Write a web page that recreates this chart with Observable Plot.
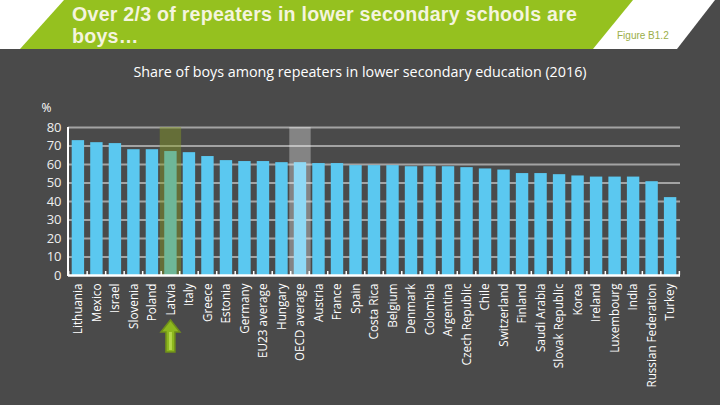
<!DOCTYPE html>
<html>
<head>
<meta charset="utf-8">
<script src="https://cdn.jsdelivr.net/npm/d3@7"></script>
<script src="https://cdn.jsdelivr.net/npm/@observablehq/plot@0.6"></script>
<style>
  html, body { margin: 0; padding: 0; }
  body { width: 720px; height: 405px; background: #4a4a4a; position: relative; overflow: hidden; }
  #header { position: absolute; left: 0; top: 0; width: 720px; height: 49px; }
  #title { position: absolute; left: 72px; top: 3px; width: 540px; font-family: "Liberation Sans", Arial, sans-serif;
           font-weight: bold; font-size: 19.6px; line-height: 22px; letter-spacing: 0.25px; color: #f4f4de; white-space: nowrap; }
  #fig { position: absolute; left: 617px; top: 30px; font-family: "Liberation Sans", Arial, sans-serif; font-size: 10px; color: #9aae48; }
  #subtitle { position: absolute; left: 0; top: 62px; width: 720px; text-align: center; font-family: "Open Sans", sans-serif;
              font-size: 14.3px; color: #ffffff; }
  #chart { position: absolute; left: 0; top: 90px; }
</style>
</head>
<body>
<svg id="header" width="720" height="49">
  <rect x="0" y="0" width="720" height="49" fill="#ffffff"></rect>
  <polygon points="64,0 633,0 593,49 20,49" fill="#95c11f"></polygon>
  <polygon points="715,0 720,0 720,49 677,49" fill="#4a4a4a"></polygon>
</svg>
<div id="title">Over 2/3 of repeaters in lower secondary schools are<br>boys…</div>
<div id="fig">Figure B1.2</div>
<div id="subtitle">Share of boys among repeaters in lower secondary education (2016)</div>
<div id="chart"></div>
<script>
const countries = ["Lithuania","Mexico","Israel","Slovenia","Poland","Latvia","Italy","Greece","Estonia","Germany",
  "EU23 average","Hungary","OECD average","Austria","France","Spain","Costa Rica","Belgium","Denmark","Colombia",
  "Argentina","Czech Republic","Chile","Switzerland","Finland","Saudi Arabia","Slovak Republic","Korea","Ireland",
  "Luxembourg","India","Russian Federation","Turkey"];
const values = [72.9,71.8,71.3,68.0,68.0,67.0,66.4,64.3,62.1,61.6,
  61.6,61.0,61.0,60.5,60.5,59.4,59.4,59.4,58.8,58.8,
  58.8,58.3,57.6,57.0,55.1,55.1,54.5,53.8,53.2,
  53.2,53.2,50.7,42.1];
const highlighted = ["Latvia","OECD average"];
const highlightColors = ["#8aa020","#ffffff"];
const highlightOpacity = [0.42,0.32];
const yTicks = [0,10,20,30,40,50,60,70,80];
const arrowCountry = "Latvia";

const data = countries.map((c, i) => ({country: c, value: values[i]}));
const hl = highlighted.map((c, i) => ({country: c, color: highlightColors[i], opacity: highlightOpacity[i]}));

// custom mark: left axis line, band-boundary ticks, and the arrow under the chosen country
function decorations(index, scales, values, dim) {
  const x = scales.x, bw = x.bandwidth();
  const step = x(countries[1]) - x(countries[0]);
  const y0 = dim.height - dim.marginBottom;
  const g = d3.create("svg:g");
  for (let i = 0; i <= countries.length; i++) {
    const cx = i < countries.length ? x(countries[i]) + bw / 2 - step / 2 : x(countries[countries.length - 1]) + bw / 2 + step / 2;
    g.append("line").attr("x1", cx).attr("x2", cx).attr("y1", y0).attr("y2", y0 - 4)
      .attr("stroke", "white").attr("stroke-width", 1.5);
  }
  g.append("line").attr("x1", dim.marginLeft).attr("x2", dim.marginLeft)
    .attr("y1", dim.marginTop).attr("y2", y0 + 1).attr("stroke", "white").attr("stroke-width", 2);
  const ax = x(arrowCountry) + bw / 2;
  const tip = y0 + 45, neck = y0 + 57, bot = y0 + 77;
  const pts = [[ax, tip], [ax + 9.5, neck], [ax + 4.5, neck], [ax + 4.5, bot], [ax - 4.5, bot], [ax - 4.5, neck], [ax - 9.5, neck]];
  g.append("polygon").attr("points", pts.map(p => p.join(",")).join(" "))
    .attr("fill", "#8db81e").attr("stroke", "#6f8f1a").attr("stroke-width", 1.5);
  g.append("rect").attr("x", ax - 1.5).attr("y", neck).attr("width", 3).attr("height", bot - neck - 2)
    .attr("fill", "#b5d84a");
  return g.node();
}

const chart = Plot.plot({
  width: 720,
  height: 315,
  marginTop: 37,
  marginBottom: 130,
  marginLeft: 68,
  marginRight: 40,
  style: {background: "transparent", color: "white", fontFamily: "'Open Sans', sans-serif", fontSize: "12px"},
  x: {domain: countries, paddingInner: 0.33, paddingOuter: 0.2, round: false, label: null},
  y: {domain: [0, 80], label: null},
  marks: [
    Plot.gridY(yTicks.slice(1), {stroke: "#a3a3a3", strokeOpacity: 1, strokeWidth: 2}),
    Plot.barY(data, {x: "country", y: "value", fill: "#5bc8f0"}),
    Plot.barY(hl, {x: "country", y1: 0, y2: 80, fill: "color", fillOpacity: "opacity", insetLeft: -4.5, insetRight: -4.5}),
    Plot.ruleY([0], {stroke: "white", strokeWidth: 2.5}),
    Plot.axisY({ticks: yTicks, tickSize: 0, tickPadding: 7, fontSize: 13, fill: "#eeeeee", label: null}),
    Plot.axisX({tickRotate: -90, tickSize: 0, tickPadding: 8, fontSize: 11.7, fill: "white", label: null}),
    Plot.text(["%"], {frameAnchor: "top-left", dx: -27, dy: -24, fill: "white", fontSize: 12, textAnchor: "start"}),
    decorations
  ]
});
document.getElementById("chart").appendChild(chart);
</script>
</body>
</html>
